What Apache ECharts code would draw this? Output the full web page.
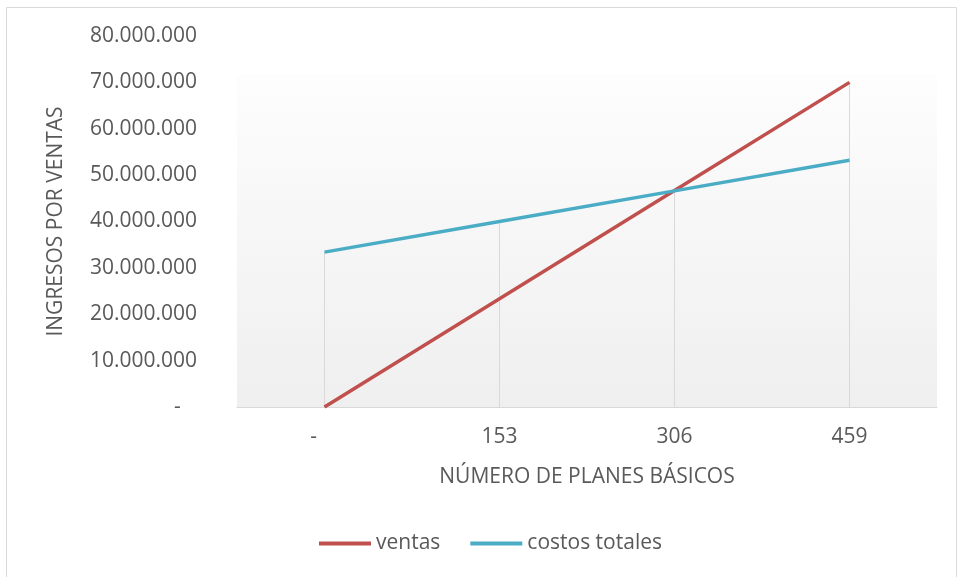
<!DOCTYPE html>
<html>
<head>
<meta charset="utf-8">
<script src="https://cdn.jsdelivr.net/npm/echarts@6/dist/echarts.min.js"></script>
<style>
  html, body { margin: 0; padding: 0; background: #fff; }
  #main { width: 957px; height: 577px; }
</style>
</head>
<body>
<div id="main"></div>
<script>
// datos
const categorias = ['-', '153', '306', '459'];
const ventas = [0, 23330000, 46670000, 70000000];
const costosTotales = [33400000, 40000000, 46600000, 53200000];
const yTicks = { min: 0, max: 80000000, interval: 10000000 };

// líneas verticales hasta el punto más alto de cada categoría
const caida = categorias.map((c, i) => Math.max(ventas[i], costosTotales[i]));

const gris = '#595959';
const fuente = '"Open Sans", "Noto Sans", sans-serif';

function miles(v) {
  if (v === 0) return '-   ';
  return String(v).replace(/\B(?=(\d{3})+(?!\d))/g, '.');
}

const chart = echarts.init(document.getElementById('main'));
const option = {
  backgroundColor: '#fff',
  animation: false,
  textStyle: { fontFamily: fuente },
  graphic: [{
    type: 'rect',
    left: 4, top: 5,
    shape: { width: 950, height: 580 },
    style: { fill: 'none', stroke: '#d9d9d9', lineWidth: 1 },
    silent: true
  }],
  legend: {
    bottom: 18,
    left: 314,
    itemWidth: 52,
    itemHeight: 4,
    itemGap: 30,
    icon: 'rect',
    data: ['ventas', 'costos totales'],
    textStyle: { color: gris, fontSize: 21, fontFamily: fuente }
  },
  grid: { left: 237, right: 20, top: 36, bottom: 170 },
  xAxis: {
    type: 'category',
    data: categorias,
    boundaryGap: true,
    name: 'NÚMERO DE PLANES BÁSICOS',
    nameLocation: 'middle',
    nameGap: 60,
    nameTextStyle: { color: gris, fontSize: 21, fontFamily: fuente },
    axisLine: { lineStyle: { color: '#d9d9d9', width: 1 } },
    axisTick: { show: false },
    axisLabel: {
      color: gris, fontSize: 21, margin: 20,
      formatter: v => v === '-' ? '-    ' : v
    },
    splitLine: { show: false }
  },
  yAxis: {
    type: 'value',
    min: yTicks.min, max: yTicks.max, interval: yTicks.interval,
    name: 'INGRESOS POR VENTAS',
    nameLocation: 'middle',
    nameGap: 170,
    nameTextStyle: { color: gris, fontSize: 21, fontFamily: fuente },
    axisLine: { show: false },
    axisTick: { show: false },
    splitLine: { show: false },
    axisLabel: { color: gris, fontSize: 21, margin: 40, formatter: miles }
  },
  series: [
    {
      name: 'caida',
      type: 'bar',
      data: caida,
      barWidth: 1,
      itemStyle: { color: '#d9d9d9' },
      silent: true,
      z: 1,
      markArea: {
        silent: true,
        itemStyle: {
          color: {
            type: 'linear', x: 0, y: 0, x2: 0, y2: 1,
            colorStops: [{ offset: 0, color: '#fdfdfd' }, { offset: 1, color: '#efefef' }]
          }
        },
        data: [[{ yAxis: 0 }, { yAxis: 71600000 }]]
      }
    },
    {
      name: 'ventas',
      type: 'line',
      data: ventas,
      symbol: 'none',
      color: '#c0504d',
      lineStyle: { width: 3.5, color: '#c0504d' },
      z: 3
    },
    {
      name: 'costos totales',
      type: 'line',
      data: costosTotales,
      symbol: 'none',
      color: '#4bacc6',
      lineStyle: { width: 3.5, color: '#4bacc6' },
      z: 3
    }
  ]
};
chart.setOption(option);
</script>
</body>
</html>
